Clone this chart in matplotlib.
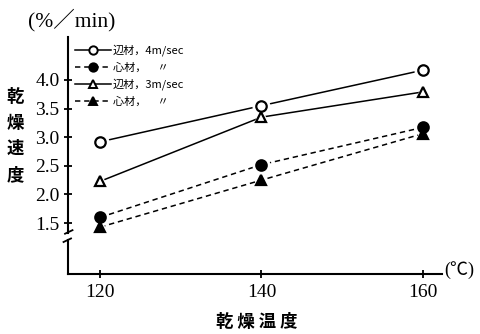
import matplotlib
matplotlib.use("Agg")
import matplotlib.pyplot as plt
from matplotlib.lines import Line2D

plt.rcParams['font.family'] = ['Liberation Serif', 'Noto Sans CJK JP']

temps = [120, 140, 160]
sap_4 = [2.92, 3.55, 4.17]     # 辺材 4m/sec
heart_4 = [1.60, 2.52, 3.17]   # 心材 4m/sec
sap_3 = [2.23, 3.35, 3.79]     # 辺材 3m/sec
heart_3 = [1.43, 2.25, 3.06]   # 心材 3m/sec
legend_labels = ["辺材，4m/sec", "心材，　〃", "辺材，3m/sec", "心材，　〃"]
yticks = [1.5, 2.0, 2.5, 3.0, 3.5, 4.0]

fig = plt.figure(figsize=(4.8, 3.34), dpi=100)
ax = fig.add_axes([0.1417, 0.1796, 0.779, 0.7096])

series = [
    (sap_4, 'o', 'white', '-'),
    (heart_4, 'o', 'black', (0, (3.5, 2.5))),
    (sap_3, '^', 'white', '-'),
    (heart_3, '^', 'black', (0, (3.5, 2.5))),
]

handles = []
for (vals, mk, fc, ls), lab in zip(series, legend_labels):
    ax.plot(temps, vals, color='black', lw=1.1, ls=ls, zorder=2)
    ax.plot(temps, vals, ls='none', marker=mk, ms=12, mfc='white', mec='white', zorder=3)
    ax.plot(temps, vals, ls='none', marker=mk, ms=7.5, mfc=fc, mec='black', mew=1.6, zorder=4)
    handles.append(Line2D([0], [0], color='black', lw=1.1, ls=ls, marker=mk, ms=6,
                          mfc=fc, mec='black', mew=1.4))

leg = ax.legend(handles, legend_labels, loc='upper left', bbox_to_anchor=(0.0, 1.0),
                frameon=False, handlelength=3.2, handletextpad=0.2, labelspacing=0.55,
                borderaxespad=0.25, prop={'family': ['Noto Sans CJK JP'], 'size': 8})

ax.set_xlim(116.0, 162.4)
ax.set_ylim(0.61, 4.75)
ax.set_xticks(temps)
ax.set_yticks(yticks)
ax.set_yticklabels([f"{v:.1f}" for v in yticks])
ax.tick_params(axis='both', labelsize=14, direction='inout', length=6, width=1.3, pad=3)
ax.tick_params(axis='x', pad=4)

for s in ['top', 'right', 'left']:
    ax.spines[s].set_visible(False)
ax.spines['bottom'].set_linewidth(1.5)

# y axis drawn in two pieces with a break mark
ax.plot([0, 0], [0.0, 0.145], transform=ax.transAxes, color='black', lw=1.5, clip_on=False)
ax.plot([0, 0], [0.175, 1.0], transform=ax.transAxes, color='black', lw=1.5, clip_on=False)
ax.plot([-0.012, 0.008], [0.135, 0.15], transform=ax.transAxes, color='black', lw=1.3, clip_on=False)
ax.plot([-0.008, 0.012], [0.17, 0.185], transform=ax.transAxes, color='black', lw=1.3, clip_on=False)

fig.text(0.058, 0.94, "(%／min)", fontsize=15.5, family=['Liberation Serif', 'Noto Sans CJK JP'],
         va='center', ha='left')
ylab_y = [0.71, 0.632, 0.555, 0.475]
for ch, yy in zip("乾燥速度", ylab_y):
    fig.text(0.032, yy, ch, fontsize=12.5, family=['Noto Sans CJK JP'], ha='center', va='center',
             fontweight='bold')
fig.text(0.535, 0.035, "乾 燥 温 度", fontsize=12.5, family=['Noto Sans CJK JP'], ha='center',
         va='center', fontweight='bold')
fig.text(0.925, 0.19, "(℃)", fontsize=13, family=['Liberation Serif', 'Noto Sans CJK JP'],
         ha='left', va='center')

fig.savefig("out.png", dpi=100)
